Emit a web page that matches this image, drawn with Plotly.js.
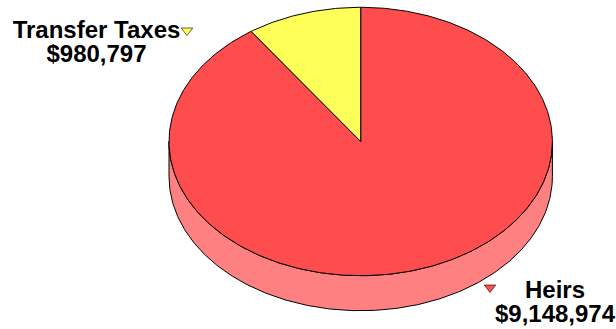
<!DOCTYPE html>
<html><head><meta charset="utf-8">
<script src="https://cdn.plot.ly/plotly-3.0.1.min.js"></script>
<style>html,body{margin:0;padding:0;background:#fff}#chart{width:616px;height:329px}</style>
</head><body><div id="chart"></div>
<script>
// Data
var labels = ['Heirs', 'Transfer Taxes'];
var values = [9148974, 980797];
var topColors = ['#FF4D4D', '#FFFF59'];
var sideColors = ['#FF8080', '#CCCC47'];

// Geometry (pixel-like units on hidden axes)
var cx = 360.7, cy = 141.5, rx = 191.7, ry = 134.2, depth = 35;
var N = 240;
function pt(t, dy) { return [cx + rx * Math.sin(t), cy - ry * Math.cos(t) + (dy || 0)]; }

var total = values.reduce(function(a, b) { return a + b; }, 0);
var traces = [];
var starts = [], ends = [];
var acc = 0;
values.forEach(function(v) {
  starts.push(2 * Math.PI * acc / total);
  acc += v;
  ends.push(2 * Math.PI * acc / total);
});

// Side faces (front half: t in [pi/2, 3pi/2])
values.forEach(function(v, i) {
  var a = Math.max(starts[i], Math.PI / 2), b = Math.min(ends[i], 3 * Math.PI / 2);
  if (b <= a) return;
  var xs = [], ys = [], k, t, p;
  for (k = 0; k <= N; k++) { t = a + (b - a) * k / N; p = pt(t, 0); xs.push(p[0]); ys.push(p[1]); }
  for (k = N; k >= 0; k--) { t = a + (b - a) * k / N; p = pt(t, depth); xs.push(p[0]); ys.push(p[1]); }
  xs.push(xs[0]); ys.push(ys[0]);
  traces.push({x: xs, y: ys, mode: 'lines', fill: 'toself', fillcolor: sideColors[i],
    line: {color: '#000', width: 1}, hoverinfo: 'skip', type: 'scatter'});
});

// Top faces
values.forEach(function(v, i) {
  var a = starts[i], b = ends[i];
  var xs = [cx], ys = [cy], k, t, p;
  var n = Math.max(8, Math.round(N * (b - a) / Math.PI));
  for (k = 0; k <= n; k++) { t = a + (b - a) * k / n; p = pt(t, 0); xs.push(p[0]); ys.push(p[1]); }
  xs.push(cx); ys.push(cy);
  traces.push({x: xs, y: ys, mode: 'lines', fill: 'toself', fillcolor: topColors[i],
    line: {color: '#000', width: 1}, hoverinfo: 'skip', type: 'scatter'});
});

// Labels
function money(v) { return '$' + v.toLocaleString('en-US'); }
var labelPos = [
  {mx: 490, my: 287.5, tx: 555, ty1: 292, ty2: 315.5},
  {mx: 187, my: 30.5, tx: 96.5, ty1: 32, ty2: 55.5}
];
values.forEach(function(v, i) {
  var L = labelPos[i];
  traces.push({x: [L.mx], y: [L.my], mode: 'markers', type: 'scatter', hoverinfo: 'skip',
    marker: {symbol: 'triangle-down', size: 10, color: topColors[i], line: {color: '#000', width: 0.6}}});
  traces.push({x: [L.tx, L.tx], y: [L.ty1, L.ty2], mode: 'text', type: 'scatter', hoverinfo: 'skip',
    text: [labels[i], money(v)], textposition: 'middle center',
    textfont: {family: 'Liberation Sans, Arial, sans-serif', size: 24, color: '#000', weight: 'bold'}});
});

var layout = {
  width: 616, height: 329, margin: {l: 0, r: 0, t: 0, b: 0},
  paper_bgcolor: '#fff', plot_bgcolor: '#fff', showlegend: false,
  xaxis: {range: [0, 616], visible: false, fixedrange: true},
  yaxis: {range: [329, 0], visible: false, fixedrange: true}
};
Plotly.newPlot('chart', traces, layout, {displayModeBar: false, staticPlot: true});
</script></body></html>
